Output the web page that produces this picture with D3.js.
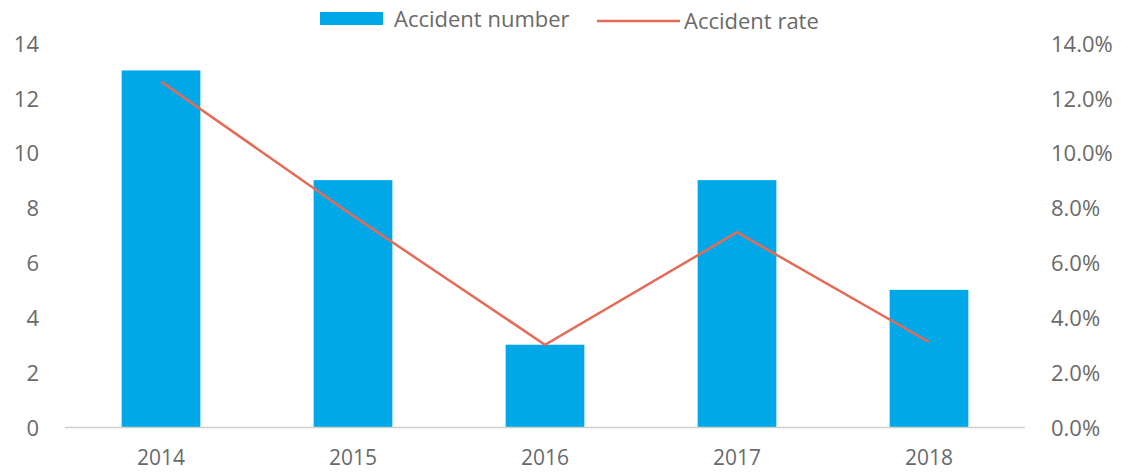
<!DOCTYPE html>
<html>
<head>
<meta charset="utf-8">
<script src="https://cdn.jsdelivr.net/npm/d3@7"></script>
<style>
  body { margin: 0; background: #fff; }
  text { font-family: "Open Sans", "Liberation Sans", sans-serif; fill: #6a6a6a; }
</style>
</head>
<body>
<div id="chart"></div>
<script>
const years = ['2014', '2015', '2016', '2017', '2018'];
const accidentNumber = [13, 9, 3, 9, 5];
const accidentRate = [0.126, 0.077, 0.030, 0.071, 0.031];
const leftTicks = [0, 2, 4, 6, 8, 10, 12, 14];
const rightTicks = [0, 0.02, 0.04, 0.06, 0.08, 0.10, 0.12, 0.14];

const width = 1128, height = 474;
const margin = {top: 43, right: 103, bottom: 47, left: 65};
const fontSize = '22px';

const svg = d3.select('#chart').append('svg')
    .attr('width', width)
    .attr('height', height);

// scales
const x = d3.scaleBand()
    .domain(years)
    .range([margin.left, width - margin.right])
    .paddingInner(0.59)
    .paddingOuter(0.295);

const yLeft = d3.scaleLinear()
    .domain([0, 14])
    .range([height - margin.bottom, margin.top]);

const yRight = d3.scaleLinear()
    .domain([0, 0.14])
    .range([height - margin.bottom, margin.top]);

// bars
svg.append('g').selectAll('rect')
    .data(years)
  .join('rect')
    .attr('x', d => x(d))
    .attr('y', (d, i) => yLeft(accidentNumber[i]))
    .attr('width', x.bandwidth())
    .attr('height', (d, i) => yLeft(0) - yLeft(accidentNumber[i]))
    .attr('fill', '#00A8E8');

// baseline
svg.append('line')
    .attr('x1', margin.left)
    .attr('x2', width - margin.right)
    .attr('y1', yLeft(0) + 0.5)
    .attr('y2', yLeft(0) + 0.5)
    .attr('stroke', '#D0D0D0')
    .attr('stroke-width', 1.5);

// rate line
const line = d3.line()
    .x((d, i) => x(years[i]) + x.bandwidth() / 2)
    .y(d => yRight(d));

svg.append('path')
    .datum(accidentRate)
    .attr('d', line)
    .attr('fill', 'none')
    .attr('stroke', '#E56B57')
    .attr('stroke-width', 2.5);

// left axis labels
svg.append('g').selectAll('text')
    .data(leftTicks)
  .join('text')
    .attr('x', 39)
    .attr('y', d => yLeft(d) + 1)
    .attr('dy', '0.35em')
    .attr('text-anchor', 'end')
    .style('font-size', fontSize)
    .text(d => d);

// right axis labels
svg.append('g').selectAll('text')
    .data(rightTicks)
  .join('text')
    .attr('x', 1051)
    .attr('y', d => yRight(d) + 1)
    .attr('dy', '0.35em')
    .attr('text-anchor', 'start')
    .style('font-size', fontSize)
    .text(d => d3.format('.1%')(d));

// x labels
svg.append('g').selectAll('text')
    .data(years)
  .join('text')
    .attr('x', d => x(d) + x.bandwidth() / 2)
    .attr('y', 458)
    .attr('dy', '0.35em')
    .attr('text-anchor', 'middle')
    .style('font-size', '21px')
    .text(d => d);

// legend
const legend = svg.append('g');
legend.append('rect')
    .attr('x', 320).attr('y', 12)
    .attr('width', 63).attr('height', 13)
    .attr('fill', '#00A8E8');
legend.append('text')
    .attr('x', 394).attr('y', 19)
    .attr('dy', '0.35em')
    .style('font-size', fontSize)
    .text('Accident number');
legend.append('line')
    .attr('x1', 597).attr('x2', 680)
    .attr('y1', 21).attr('y2', 21)
    .attr('stroke', '#E56B57')
    .attr('stroke-width', 2.5);
legend.append('text')
    .attr('x', 684).attr('y', 21)
    .attr('dy', '0.35em')
    .style('font-size', fontSize)
    .text('Accident rate');
</script>
</body>
</html>
